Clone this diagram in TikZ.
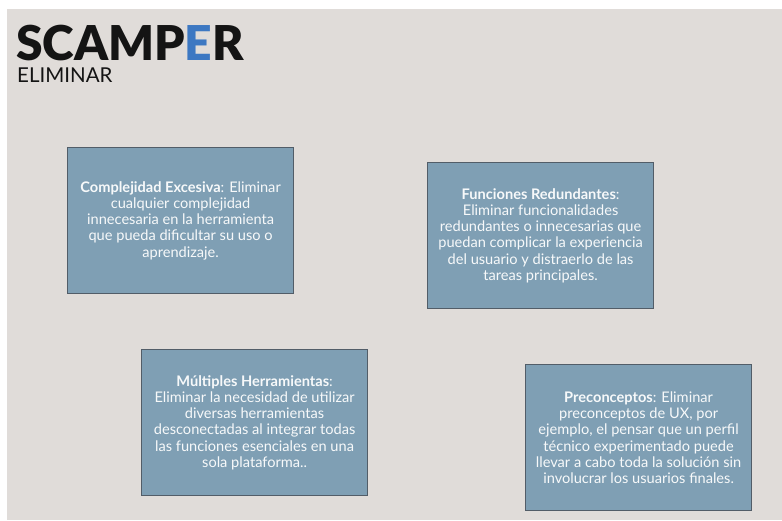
\documentclass[tikz,border=0pt]{standalone}
\usepackage{fontspec}
\setmainfont{Lato}
\newfontfamily\titlefont{Lato Black}
\definecolor{bg}{HTML}{E0DCD9}
\definecolor{boxfill}{HTML}{7F9FB4}
\definecolor{boxline}{HTML}{525D68}
\definecolor{eblue}{HTML}{3D78C2}
\definecolor{titleblack}{HTML}{141414}
\begin{document}
\begin{tikzpicture}[x=1pt,y=-1pt,
  card/.style={draw=boxline, line width=1.2pt, fill=boxfill, minimum width=226pt, minimum height=146pt, inner sep=0pt,
     text=white!94!boxfill, align=center, font=\fontsize{14.6}{16.2}\selectfont, anchor=north west}]
\useasboundingbox (0,0) rectangle (782,520);
\fill[white] (0,0) rectangle (782,520);
\fill[bg] (7,9) rectangle (782,520);
\node[anchor=base west, inner sep=0pt, text depth=0pt, text=titleblack] (title) at (16,60) {\titlefont\fontsize{48}{48}\selectfont SCAMP\textcolor{eblue}{E}R};
\node[anchor=base west, inner sep=0pt, text height=15pt, text depth=0pt, text=titleblack] (sub) at (17,82) {\fontsize{20.5}{20.5}\selectfont ELIMINAR};
\node[card] (c1) at (67,147) {\textbf{Complejidad Excesiva}: Eliminar\\cualquier complejidad\\innecesaria en la herramienta\\que pueda dificultar su uso o\\aprendizaje.};
\node[card] (c2) at (427,162) {\textbf{Funciones Redundantes}:\\Eliminar funcionalidades\\redundantes o innecesarias que\\puedan complicar la experiencia\\del usuario y distraerlo de las\\tareas principales.};
\node[card] (c3) at (141,349) {\textbf{Múltiples Herramientas}:\\Eliminar la necesidad de utilizar\\diversas herramientas\\desconectadas al integrar todas\\las funciones esenciales en una\\sola plataforma..};
\node[card] (c4) at (525,364) {\textbf{Preconceptos}: Eliminar\\preconceptos de UX, por\\ejemplo, el pensar que un perfil\\técnico experimentado puede\\llevar a cabo toda la solución sin\\involucrar los usuarios finales.};
\end{tikzpicture}
\end{document}
